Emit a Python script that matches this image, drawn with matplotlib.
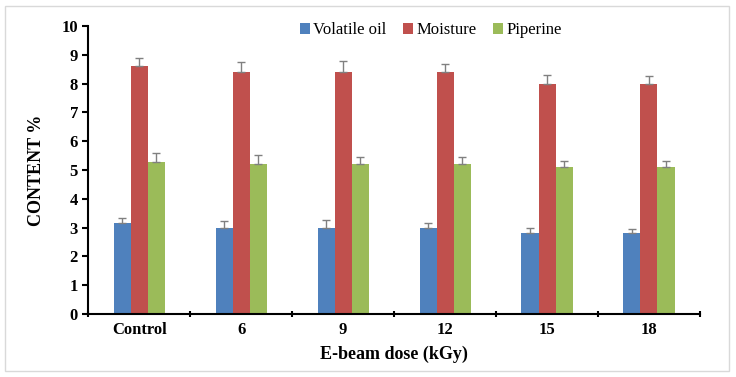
import numpy as np
import matplotlib.pyplot as plt
from matplotlib.patches import Rectangle

plt.rcParams['font.family'] = ['Liberation Serif', 'DejaVu Serif']

doses = ['Control', '6', '9', '12', '15', '18']
volatile_oil = [3.15, 3.0, 3.0, 3.0, 2.8, 2.8]
volatile_err = [0.2, 0.22, 0.25, 0.15, 0.18, 0.15]
moisture = [8.6, 8.4, 8.4, 8.4, 8.0, 8.0]
moisture_err = [0.3, 0.35, 0.4, 0.28, 0.3, 0.25]
piperine = [5.28, 5.22, 5.22, 5.2, 5.1, 5.1]
piperine_err = [0.3, 0.3, 0.22, 0.25, 0.2, 0.22]

series = [
    ('Volatile oil', volatile_oil, volatile_err, '#4f81bd'),
    ('Moisture', moisture, moisture_err, '#c0504d'),
    ('Piperine', piperine, piperine_err, '#9bbb59'),
]

fig = plt.figure(figsize=(7.36, 3.77), dpi=100)
ax = fig.add_axes([0.12, 0.167, 0.831, 0.764])

# light grey frame round the whole figure
fig.patches.append(Rectangle((0.007, 0.016), 0.984, 0.968, transform=fig.transFigure,
                             fill=False, edgecolor='#d9d9d9', linewidth=1))

x = np.arange(len(doses))
w = 0.167
for i, (name, vals, err, col) in enumerate(series):
    pos = x + (i - 1) * w
    ax.bar(pos, vals, w, color=col, label=name, zorder=2)
    ax.errorbar(pos, vals, yerr=[np.zeros(len(err)), err], fmt='none',
                ecolor='#808080', elinewidth=1, capsize=3, capthick=1, zorder=3)

ax.set_xlim(-0.5, len(doses) - 0.5)
ax.set_ylim(0, 10)
ax.set_yticks(range(0, 11))
ax.set_xticks(x)
ax.set_xticklabels(doses)
ax.set_xticks(np.arange(-0.5, len(doses)), minor=True)
ax.tick_params(axis='x', which='major', length=0, pad=6)
ax.tick_params(axis='x', which='minor', length=5, width=1.5, direction='inout')
ax.tick_params(axis='y', length=4, width=1.5, direction='out')

for lab in ax.get_xticklabels() + ax.get_yticklabels():
    lab.set_fontweight('bold')
    lab.set_fontsize(12)

ax.spines['top'].set_visible(False)
ax.spines['right'].set_visible(False)
ax.spines['left'].set_linewidth(1.5)
ax.spines['bottom'].set_linewidth(1.5)

ax.set_xlabel('E-beam dose (kGy)', fontsize=13, fontweight='bold', labelpad=5)
ax.set_ylabel('CONTENT %', fontsize=13, fontweight='bold', labelpad=12)

ax.legend(loc='upper center', bbox_to_anchor=(0.56, 1.065), ncol=3, frameon=False,
          fontsize=12, handlelength=0.6, handleheight=0.6, handletextpad=0.2,
          columnspacing=1.0)

fig.savefig('out.png', dpi=100)
